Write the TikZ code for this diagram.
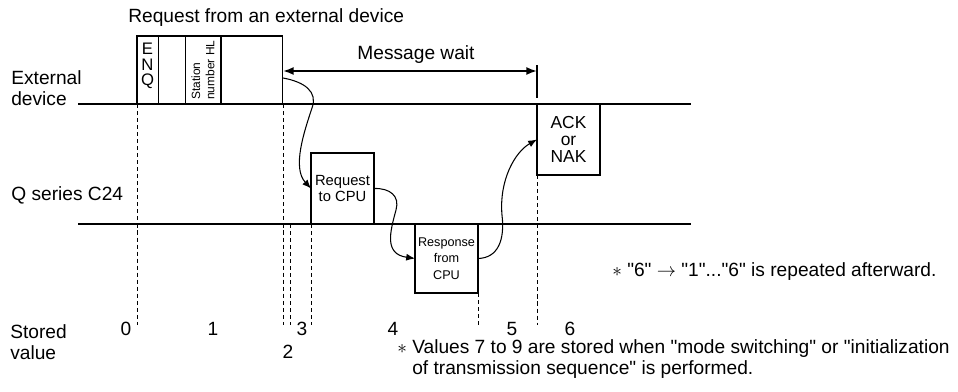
\documentclass[tikz,border=0pt]{standalone}
\usepackage{fontspec}
\setmainfont{Liberation Sans}
\usetikzlibrary{arrows.meta,positioning}
\newcommand\q{\textquotedbl}

\begin{document}
\begin{tikzpicture}[
    x=0.02cm, y=-0.02cm,
    txt/.style={font=\fontsize{10.9}{12}\selectfont, inner sep=0pt},
    box/.style={draw, line width=0.6pt, inner sep=0pt, outer sep=0pt, anchor=north west, align=center},
    time line/.style={line width=1.1pt},
    guide/.style={line width=0.5pt, dash pattern=on 2.3pt off 1.7pt},
    flow/.style={line width=0.6pt, -{Latex[length=5pt,width=4pt]}},
    wait/.style={line width=1.1pt, {Latex[length=6pt,width=4.5pt]}-{Latex[length=6pt,width=4.5pt]}}
]
    \useasboundingbox (0,0) rectangle (958,392);

    % 時間軸
    \coordinate (ext-l) at (78,104);  \coordinate (ext-r) at (691,104);
    \coordinate (q-l) at (78,224);    \coordinate (q-r) at (691,224);
    \coordinate (base) at (0,325);
    \draw[time line] (ext-l) -- (ext-r);
    \draw[time line] (q-l) -- (q-r);

    \node[txt, align=left, anchor=west] (ext-label) at (11,88) {External\\device};
    \node[txt, anchor=west] (q-label) at (11,195) {Q series C24};
    \node[txt, align=left, anchor=west] (st-label) at (10,342) {Stored\\value};

    % 外部機器からの要求
    \node[txt, anchor=west] (req-title) at (128,18) {Request from an external device};
    \node[box, minimum width=0.43cm, minimum height=1.36cm] (enq) at (137,36) {};
    \node[box, minimum width=0.54cm, minimum height=1.36cm] (blank) at (enq.north east) {};
    \node[box, minimum width=0.71cm, minimum height=1.36cm] (station) at (blank.north east) {};
    \node[box, minimum width=1.24cm, minimum height=1.36cm] (last) at (station.north east) {};
    \node[inner sep=0pt, align=center, font=\fontsize{9.5}{9}\selectfont] (enq-text) at (147.5,66) {E\\N\\Q};
    \node[inner sep=0pt, align=left, rotate=90, anchor=north west,
          font=\fontsize{6.8}{8.2}\selectfont] (station-text) at (191,100) {Station\\number HL};

    % メッセージ待ち
    \coordinate (mw) at (537,71);
    \coordinate (tick-top) at (537,65);
    \coordinate (tick-bot) at (537,98);
    \draw[line width=1.1pt] (tick-top) -- (tick-bot);
    \draw[wait] (last.east |- mw) -- (mw);
    \node[txt] (mw-label) at (416,55) {Message wait};

    % C24 の処理
    \node[box, minimum width=1.26cm, minimum height=1.42cm,
          font=\fontsize{8.4}{9.4}\selectfont] (req) at (311,153) {Request\\to CPU};
    \node[box, minimum width=1.26cm, minimum height=1.38cm,
          font=\fontsize{7.2}{9.4}\selectfont] (resp) at (415,224) {Response\\from\\CPU};
    \node[box, minimum width=1.26cm, minimum height=1.42cm,
          font=\fontsize{9.9}{9.6}\selectfont] (ack) at (537,104) {ACK\\or\\NAK};

    \draw[flow] ([yshift=-0.16cm]last.east) .. controls (305,82) and (318,92) .. (312,108)
        .. controls (304,132) and (292,168) .. (req.west);
    \draw[flow] (req.east) .. controls (390,188) and (400,196) .. (396,210)
        .. controls (390,232) and (384,254) .. (resp.west);
    \draw[flow] (resp.east) .. controls (498,258) and (505,240) .. (502,215)
        .. controls (499,180) and (515,152) .. (ack.west);

    % 区切り線
    \draw[guide] (enq.south west) -- (enq.south west |- base);
    \draw[guide] (last.south east) -- (last.south east |- base);
    \coordinate (split) at (290,224);
    \draw[guide] (split) -- (split |- base);
    \draw[guide] (req.south west) -- (req.south west |- base);
    \draw[guide] (resp.south east) -- (resp.south east |- base);
    \draw[guide] (ack.south west) -- (ack.south west |- base);

    % 格納値
    \foreach \x/\y/\val in {126/329/0, 213/329/1, 302/329/3, 288/352/2, 393/329/4, 512/329/5, 570/329/6}
        \node[txt] (val-\val) at (\x,\y) {\val};

    % 注記
    \node[txt, anchor=west] (note-repeat) at (612,272)
        {$\ast$ \q6\q~$\rightarrow$ \q1\q...\q6\q{} is repeated afterward.};
    \node[txt, align=left, anchor=west] (note-values) at (397,359)
        {$\ast$ Values 7 to 9 are stored when \q mode switching\q{} or \q initialization\\
         \phantom{$\ast$ }of transmission sequence\q{} is performed.};
\end{tikzpicture}
\end{document}
